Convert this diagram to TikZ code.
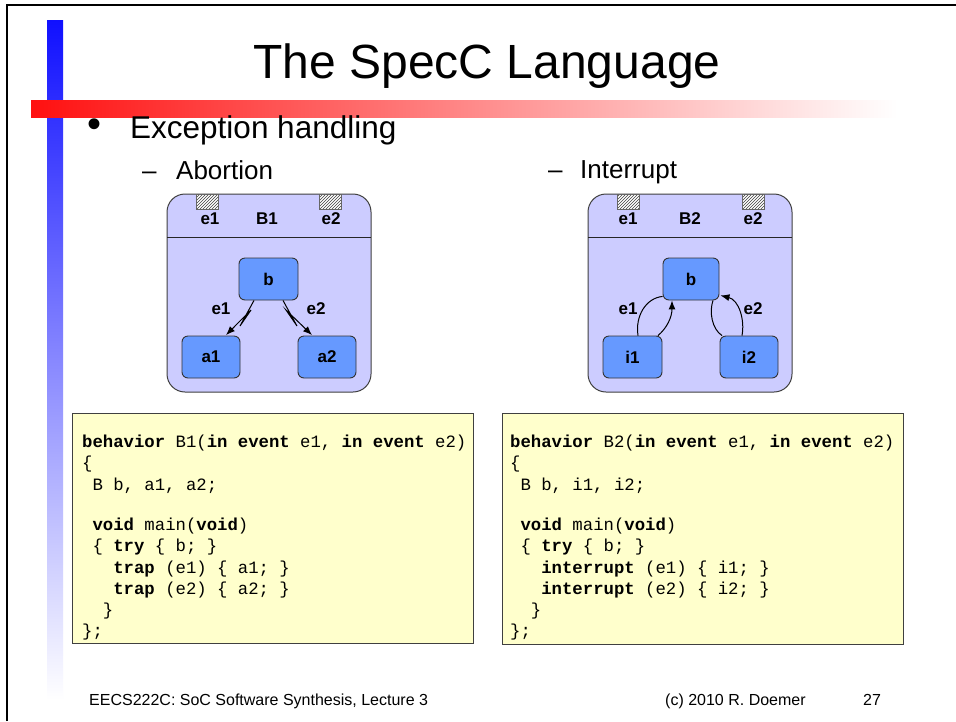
\documentclass[tikz,border=0pt]{standalone}
\usepackage{fontspec}
\setmainfont{Liberation Sans}
\setmonofont{Liberation Mono}
\usetikzlibrary{arrows.meta,patterns,calc}

\definecolor{lav}{RGB}{204,204,255}
\definecolor{nodeblue}{RGB}{102,153,255}
\definecolor{codebg}{RGB}{255,255,204}
\definecolor{barred}{RGB}{255,16,16}
\definecolor{barredmid}{RGB}{255,172,172}
\definecolor{barblue}{RGB}{16,16,255}
\definecolor{barbluemid}{RGB}{160,160,255}

\tikzset{
  outerbox/.style={draw=black!75, fill=lav, rounded corners=18, line width=1},
  statebox/.style={draw=black!80, fill=nodeblue, rounded corners=6, minimum width=58,
    minimum height=42, inner sep=0, font=\bfseries\fontsize{17}{17}\selectfont, line width=0.9},
  lbl/.style={inner sep=0, font=\bfseries\fontsize{17}{17}\selectfont},
  hatchbox/.style={draw=black!60, preaction={fill=white}, pattern=north east lines,
    pattern color=black!75, minimum width=22, minimum height=15, inner sep=0},
  codebox/.style={draw=black!75, fill=codebg, line width=1},
  code/.style={anchor=base west, inner sep=0, font=\ttfamily\fontsize{17.3}{20}\selectfont},
  arr/.style={-{Latex[length=9,width=7]}, line width=1},
  plain/.style={line width=1},
  footer/.style={anchor=base west, inner sep=0, font=\fontsize{16}{16}\selectfont},
}

\begin{document}
\begin{tikzpicture}[x=1pt,y=-1pt]
\useasboundingbox (0,0) rectangle (956,721);
\fill[white] (0,0) rectangle (956,721);

% slide frame
\draw[line width=2] (7,721) -- (7,5) -- (956,5);

% decorative bars
\shade[top color=barblue, middle color=barbluemid, bottom color=white] (47,20) rectangle (63,700);
\shade[left color=barred, middle color=barredmid, right color=white] (31,100) rectangle (897,117);

% title and bullets
\node[anchor=base, inner sep=0, font=\fontsize{48}{48}\selectfont] (title) at (487,78) {The SpecC Language};
\node[inner sep=0, font=\fontsize{40}{40}\selectfont] (bul) at (95,128) {•};
\node[anchor=base west, inner sep=0, font=\fontsize{31.5}{31.5}\selectfont] (exc) at (130,138) {Exception handling};
\node[anchor=base west, inner sep=0, font=\fontsize{26}{26}\selectfont] (dashA) at (142,179) {–};
\node[anchor=base west, inner sep=0, font=\fontsize{26}{26}\selectfont] (abort) at (176,179) {Abortion};
\node[anchor=base west, inner sep=0, font=\fontsize{26}{26}\selectfont] (dashB) at (548,178) {–};
\node[anchor=base west, inner sep=0, font=\fontsize{26}{26}\selectfont] (intr) at (580,178) {Interrupt};

% ---------- behavior B1 (abortion) ----------
\draw[outerbox] (167,194) rectangle (371,392);
\draw[line width=1, black!85] (167,237) -- (371,237);
\node[hatchbox] (hA1) at (207,201.5) {};
\node[hatchbox] (hA2) at (330.5,201.5) {};
\node[lbl] (pA1) at (210,218.5) {e1};
\node[lbl] (nameA) at (267,218.5) {B1};
\node[lbl] (pA2) at (331,218.5) {e2};

\node[statebox, minimum width=59] (bA) at (268.5,279) {b};
\node[statebox] (aA) at (211,357) {a1};
\node[statebox] (aB) at (327,357) {a2};

\draw[arr] ($(bA.south)+(-14.5,0)$) -- (240,326) -- (251,310) -- ($(aA.north)+(15,-0.5)$);
\draw[arr] ($(bA.south)+(14.5,0)$) -- (297,326) -- (286,310) -- ($(aB.north)+(-15,-0.5)$);
\node[lbl] (eA1) at (221,309) {e1};
\node[lbl] (eA2) at (316,309) {e2};

% ---------- behavior B2 (interrupt) ----------
\draw[outerbox] (588,194) rectangle (792,392);
\draw[line width=1, black!85] (588,237) -- (792,237);
\node[hatchbox] (hB1) at (628.5,201.5) {};
\node[hatchbox] (hB2) at (753,201.5) {};
\node[lbl] (pB1) at (628,218.5) {e1};
\node[lbl] (nameB) at (690,218.5) {B2};
\node[lbl] (pB2) at (753,218.5) {e2};

\node[statebox, minimum width=56] (bB) at (691,279) {b};
\node[statebox, minimum width=59] (iA) at (632.5,357) {i1};
\node[statebox] (iB) at (749,357) {i2};

\draw[plain] ($(bB.south west)+(0,-4)$) .. controls (646,298) and (635,316) .. ($(iA.north)+(5.5,0)$);
\draw[arr] ($(iA.north)+(25.5,0)$) .. controls (667,328) and (672,317) .. ($(bB.south)+(-19,0)$);
\draw[plain] ($(bB.south)+(22,0)$) .. controls (709,312) and (712,329) .. ($(iB.north)+(-27,0)$);
\draw[arr] ($(iB.north)+(-7,0)$) .. controls (745,320) and (739,300) .. ($(bB.south east)+(1,-5)$);
\node[lbl] (eB1) at (628,309) {e1};
\node[lbl] (eB2) at (753,309) {e2};

% ---------- code listings ----------
\draw[codebox] (72,413) rectangle (473,643);
\node[code] (ca1) at (82,447) {\textbf{behavior} B1(\textbf{in event} e1, \textbf{in event} e2)};
\node[code] (ca2) at (82,468) {\{};
\node[code] (ca3) at (82,490) {\phantom{x}B b, a1, a2;};
\node[code] (ca5) at (82,530) {\phantom{x}\textbf{void} main(\textbf{void})};
\node[code] (ca6) at (82,551) {\phantom{x}\{ \textbf{try} \{ b; \}};
\node[code] (ca7) at (82,573) {\phantom{xxx}\textbf{trap} (e1) \{ a1; \}};
\node[code] (ca8) at (82,594) {\phantom{xxx}\textbf{trap} (e2) \{ a2; \}};
\node[code] (ca9) at (82,615) {\phantom{xx}\}};
\node[code] (ca10) at (82,636) {\};};

\draw[codebox] (502,413) rectangle (903,644);
\node[code] (cb1) at (510,447) {\textbf{behavior} B2(\textbf{in event} e1, \textbf{in event} e2)};
\node[code] (cb2) at (510,468) {\{};
\node[code] (cb3) at (510,490) {\phantom{x}B b, i1, i2;};
\node[code] (cb5) at (510,530) {\phantom{x}\textbf{void} main(\textbf{void})};
\node[code] (cb6) at (510,551) {\phantom{x}\{ \textbf{try} \{ b; \}};
\node[code] (cb7) at (510,573) {\phantom{xxx}\textbf{interrupt} (e1) \{ i1; \}};
\node[code] (cb8) at (510,594) {\phantom{xxx}\textbf{interrupt} (e2) \{ i2; \}};
\node[code] (cb9) at (510,615) {\phantom{xx}\}};
\node[code] (cb10) at (510,636) {\};};

% footer
\node[footer] (f1) at (89,705) {EECS222C: SoC Software Synthesis, Lecture 3};
\node[footer] (f2) at (665,705) {(c) 2010 R. Doemer};
\node[footer] (f3) at (863,705) {27};
\end{tikzpicture}
\end{document}
